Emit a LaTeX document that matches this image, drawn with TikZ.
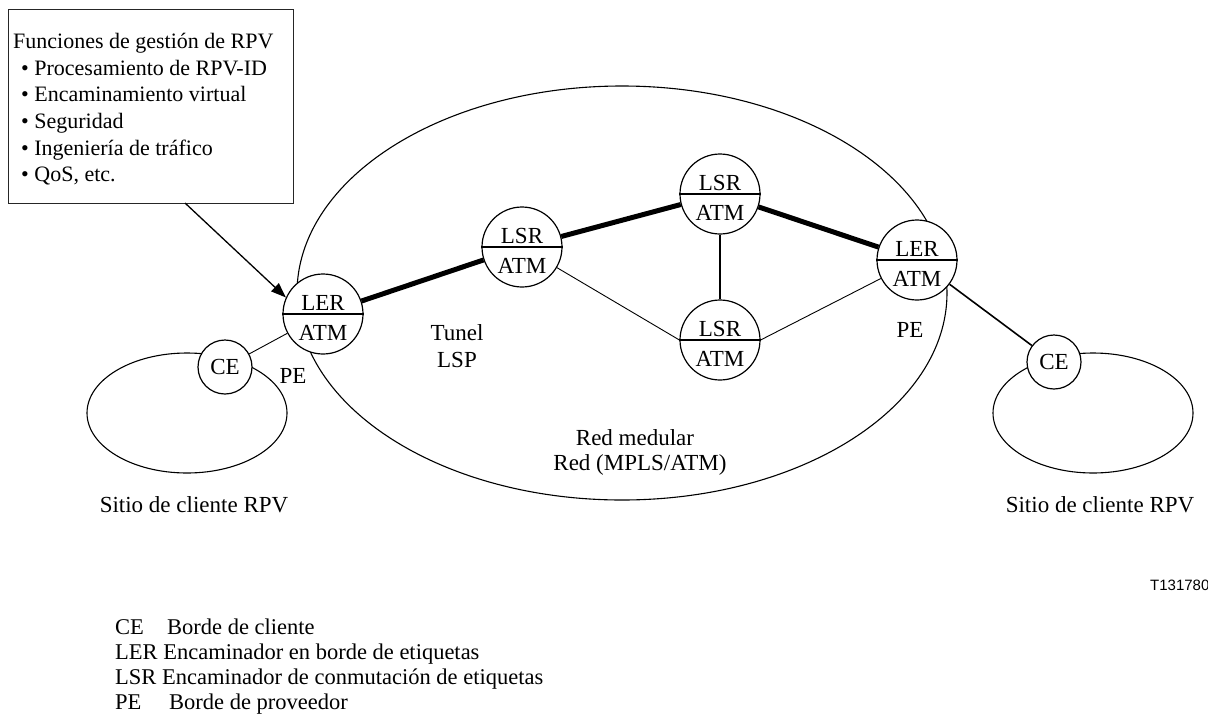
\documentclass[tikz,border=0pt]{standalone}
\usepackage{fontspec}
\setmainfont{Liberation Serif}
\newfontfamily\figsans{Liberation Sans}
\usetikzlibrary{arrows.meta}
\pgfdeclarelayer{background}
\pgfsetlayers{background,main}

% router node: circle split by a horizontal bar, two labels
\newcommand{\rtrnode}[4]{%
  \node[router] (#1) at (#2) {};
  \draw[divider] (#1.west) -- (#1.east);
  \node[lbl, anchor=base] at ([yshift=4pt]#1.center) {#3};
  \node[lbl, anchor=base] at ([yshift=-26pt]#1.center) {#4};
}

\begin{document}
\begin{tikzpicture}[x=1pt, y=-1pt,
  lbl/.style={font=\fontsize{23}{27}\selectfont, inner sep=0pt},
  boxtxt/.style={font=\fontsize{22}{26.7}\selectfont, inner sep=0pt, anchor=base west},
  legend/.style={font=\fontsize{22.5}{25}\selectfont, inner sep=0pt, anchor=base west},
  router/.style={circle, draw, fill=white, line width=1.2pt, minimum size=80pt, inner sep=0pt},
  cenode/.style={circle, draw, fill=white, line width=1.2pt, minimum size=54pt, inner sep=0pt,
                 font=\fontsize{23}{27}\selectfont},
  divider/.style={line width=1.8pt},
  cloud/.style={line width=1.1pt},
  thinlink/.style={line width=0.9pt},
  midlink/.style={line width=1.6pt},
  tunnel/.style={line width=5pt},
]
\useasboundingbox (0,0) rectangle (1208,718);

% routers
\rtrnode{lerL}{323,314}{LER}{ATM}
\rtrnode{lsrA}{522,247}{LSR}{ATM}
\rtrnode{lsrT}{720,194}{LSR}{ATM}
\rtrnode{lsrB}{720,340}{LSR}{ATM}
\rtrnode{lerR}{917,260}{LER}{ATM}

% customer edge routers
\node[cenode] (ceL) at (225,367) {CE};
\node[cenode] (ceR) at (1054,362) {CE};

\begin{pgfonlayer}{background}
  % backbone and customer sites
  \draw[cloud] (622,293) ellipse [x radius=325, y radius=207];
  \draw[cloud] (187,413) ellipse [x radius=100, y radius=60];
  \draw[cloud] (1093,413) ellipse [x radius=100, y radius=60];
  % links
  \draw[tunnel] (lerL) -- (lsrA);
  \draw[tunnel] (lsrA) -- (lsrT);
  \draw[tunnel] (lsrT) -- (lerR);
  \draw[midlink] (lsrT) -- (lsrB);
  \draw[thinlink] (lsrA) -- (lsrB.west);
  \draw[thinlink] (lsrB.east) -- (lerR);
  \draw[thinlink] (ceL) -- (lerL);
  \draw[midlink] (lerR) -- (ceR);
\end{pgfonlayer}

% management functions box
\node[draw=black!85, line width=1.3pt, anchor=north west, minimum width=285pt,
      minimum height=194pt, inner sep=0pt] (fbox) at (8,9) {};
\node[boxtxt] at (13,48) {Funciones de gestión de RPV};
\node[boxtxt] at (21,75) {\textbullet\ Procesamiento de RPV-ID};
\node[boxtxt] at (21,101) {\textbullet\ Encaminamiento virtual};
\node[boxtxt] at (21,128) {\textbullet\ Seguridad};
\node[boxtxt] at (21,155) {\textbullet\ Ingeniería de tráfico};
\node[boxtxt] at (21,181) {\textbullet\ QoS, etc.};

\coordinate (arrstart) at (185,203);
\draw[line width=1.3pt, -{Triangle[length=15pt,width=11pt]}] (arrstart) -- (lerL.156);

% labels
\node[lbl, anchor=base] at (457,340) {Tunel};
\node[lbl, anchor=base] at (457,367) {LSP};
\node[lbl, anchor=base] at (293,383) {PE};
\node[lbl, anchor=base] at (910,337) {PE};
\node[lbl, anchor=base] at (635,445) {Red medular};
\node[lbl, anchor=base] at (640,470) {Red (MPLS/ATM)};
\node[lbl, anchor=base] at (194,512) {Sitio de cliente RPV};
\node[lbl, anchor=base] at (1100,512) {Sitio de cliente RPV};

\node[font=\figsans\fontsize{15}{18}\selectfont, inner sep=0pt, anchor=base west] at (1150,590) {T131780};

% legend
\node[legend] at (115,634) {CE};
\node[legend] at (167,634) {Borde de cliente};
\node[legend] at (115,659) {LER Encaminador en borde de etiquetas};
\node[legend] at (115,684) {LSR Encaminador de conmutación de etiquetas};
\node[legend] at (115,709) {PE};
\node[legend] at (169,709) {Borde de proveedor};
\end{tikzpicture}
\end{document}
